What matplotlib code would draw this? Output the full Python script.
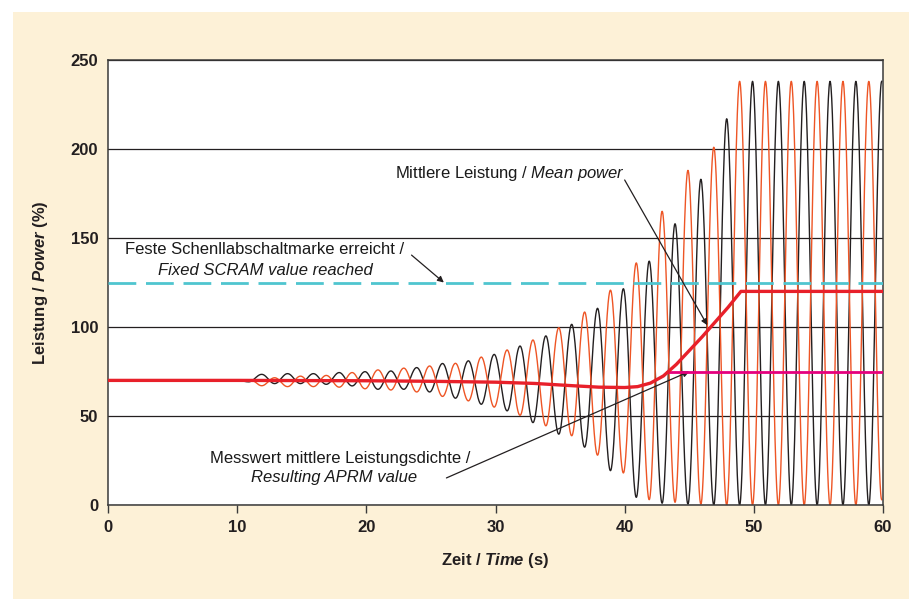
import numpy as np
import matplotlib.pyplot as plt
from matplotlib.patches import Rectangle

plt.rcParams['font.family'] = ['Liberation Sans', 'DejaVu Sans']
plt.rcParams['mathtext.fontset'] = 'custom'
plt.rcParams['mathtext.rm'] = 'Liberation Sans'
plt.rcParams['mathtext.it'] = 'Liberation Sans:italic'
plt.rcParams['mathtext.bf'] = 'Liberation Sans:bold'
plt.rcParams['mathtext.bfit'] = 'Liberation Sans:italic:bold'

# --- values ---
# channel 1 (black): peaks and troughs of the power oscillation
black_peak_t = [11.9, 13.9, 15.9, 17.9, 19.9, 21.9, 23.9, 25.9, 27.9, 29.9, 31.9, 33.9, 35.9,
                37.9, 39.9, 41.9, 43.9, 45.9, 47.9, 49.9, 51.9, 53.9, 55.9, 57.9, 59.9]
black_peak_v = [73.4, 73.8, 73.8, 74.4, 74.9, 75.3, 77.2, 79.5, 81.0, 84.6, 89.3, 95.0, 101.5,
                110.5, 121.5, 137, 158, 183, 217, 238, 238, 238, 238, 238, 238]
black_trough_t = [10.9, 12.9, 14.9, 16.9, 18.9, 20.9, 22.9, 24.9, 26.9, 28.9, 30.9, 32.9, 34.9,
                  36.9, 38.9, 40.9, 42.9, 44.9, 46.9, 48.9, 50.9, 52.9, 54.9, 56.9, 58.9]
black_trough_v = [69.2, 68.2, 68.2, 67.8, 66.9, 65.0, 65.0, 63.5, 60.0, 56.6, 52.9, 46.3, 39.8,
                  32.5, 19.3, 4.3, 1.0, 0.5, 0, 0, 0, 0, 0, 0, 0]

# channel 2 (orange)
orange_peak_t = [12.9, 14.9, 16.9, 18.9, 20.9, 22.9, 24.9, 26.9, 28.9, 30.9, 32.9, 34.9,
                 36.9, 38.9, 40.9, 42.9, 44.9, 46.9, 48.9, 50.9, 52.9, 54.9, 56.9, 58.9]
orange_peak_v = [71.5, 72.4, 72.8, 74.4, 75.9, 76.9, 78.1, 79.6, 83.1, 87.1, 92.7, 99.6,
                 108.4, 120.7, 136, 165, 188, 201, 238, 238, 238, 238, 238, 238]
orange_trough_t = [11.9, 13.9, 15.9, 17.9, 19.9, 21.9, 23.9, 25.9, 27.9, 29.9, 31.9, 33.9, 35.9,
                   37.9, 39.9, 41.9, 43.9, 45.9, 47.9, 49.9, 51.9, 53.9, 55.9, 57.9, 59.9]
orange_trough_v = [67.0, 66.5, 66.5, 66.2, 65.3, 64.6, 63.5, 61.0, 58.5, 55.0, 50.4, 44.5, 38.9,
                   28.0, 18.0, 3.0, 1.5, 0.5, 0, 0, 0, 0, 0, 0, 3.0]

# mean power
mean_t = [0, 10, 20, 25, 30, 33, 36, 38, 40, 41, 42, 43, 44, 46, 48, 49, 60]
mean_v = [70, 70, 69.8, 69.5, 69, 68.3, 67, 66.2, 66, 66.5, 68.5, 72.5, 79, 94.5, 111, 120, 120]

scram_level = 125
aprm_t = [43.3, 60]
aprm_v = [75, 75]
base_power = 70


def wave(start_t, peak_t, peak_v, trough_t, trough_v, n=40):
    # join the extrema with half cosine arcs
    knots = sorted(zip(peak_t + trough_t, peak_v + trough_v))
    knots = [(0.0, base_power), (start_t, base_power)] + knots
    ts, vs = [], []
    for (t0, v0), (t1, v1) in zip(knots[:-1], knots[1:]):
        s = np.linspace(0, 1, n)
        ts.append(t0 + (t1 - t0) * s)
        vs.append(v0 + (v1 - v0) * (1 - np.cos(np.pi * s)) / 2)
    return np.concatenate(ts), np.concatenate(vs)


fig = plt.figure(figsize=(9.09, 5.99), dpi=100, facecolor='white')
fig.patches.append(Rectangle((13 / 909, 0), 1, 1 - 12 / 599, transform=fig.transFigure,
                             facecolor='#FDF1D7', edgecolor='none', zorder=-10))
ax = fig.add_axes([108 / 909, 1 - 505 / 599, 775 / 909, 445 / 599])
ax.set_facecolor('white')

bt, bv = wave(10.0, black_peak_t, black_peak_v, black_trough_t, black_trough_v)
ot, ov = wave(11.1, orange_peak_t, orange_peak_v, orange_trough_t, orange_trough_v)
ax.plot(bt, bv, color='#231F20', lw=1.0, zorder=2)
ax.plot(ot, ov, color='#EE5525', lw=1.0, zorder=2)

ax.axhline(scram_level, color='#4FC5CF', lw=2.0, dashes=(10, 3.5), zorder=3)
ax.plot(aprm_t, aprm_v, color='#E5007D', lw=2.0, zorder=4)
ax.plot(mean_t, mean_v, color='#E8202A', lw=2.4, zorder=5)

ax.set_xlim(0, 60)
ax.set_ylim(0, 250)
ax.set_xticks(range(0, 61, 10))
ax.set_yticks(range(0, 251, 50))
ax.yaxis.grid(True, color='#231F20', lw=0.9)
ax.set_axisbelow(True)
for sp in ax.spines.values():
    sp.set_color('#3a3a3a')
    sp.set_linewidth(1.1)
ax.tick_params(axis='x', length=6, width=1, color='#3a3a3a', pad=5, labelsize=12)
ax.tick_params(axis='y', length=0, pad=7, labelsize=12)
for lab in ax.get_xticklabels() + ax.get_yticklabels():
    lab.set_fontweight('bold')
    lab.set_color('#231F20')

ax.set_xlabel(r'Zeit / $\mathbfit{Time}$ (s)', fontsize=12, fontweight='bold', labelpad=11,
              color='#231F20')
ax.set_ylabel(r'Leistung / $\mathbfit{Power}$ (%)', fontsize=12, fontweight='bold', labelpad=15,
              color='#231F20')

arrow = dict(arrowstyle='-|>', color='#231F20', lw=0.9, mutation_scale=9, shrinkA=0, shrinkB=0)
txt = dict(fontsize=12, color='#1A1A1A', ha='center', va='center')

ax.text(12.15, 143.3, 'Feste Schenllabschaltmarke erreicht /', **txt)
ax.text(12.2, 132, 'Fixed SCRAM value reached', style='italic', **txt)
ax.annotate('', xy=(26.0, scram_level), xytext=(23.5, 140.4), arrowprops=arrow)

ax.text(31.1, 186.5, r'Mittlere Leistung / $\mathit{Mean\ power}$', **txt)
ax.annotate('', xy=(46.4, 101), xytext=(40.0, 182.6), arrowprops=arrow)

ax.text(18.0, 26.4, 'Messwert mittlere Leistungsdichte /', **txt)
ax.text(17.5, 15.7, 'Resulting APRM value', style='italic', **txt)
ax.annotate('', xy=(45.0, aprm_v[0]), xytext=(26.2, 15.2), arrowprops=arrow)

fig.savefig('out.png', dpi=100, facecolor=fig.get_facecolor())
